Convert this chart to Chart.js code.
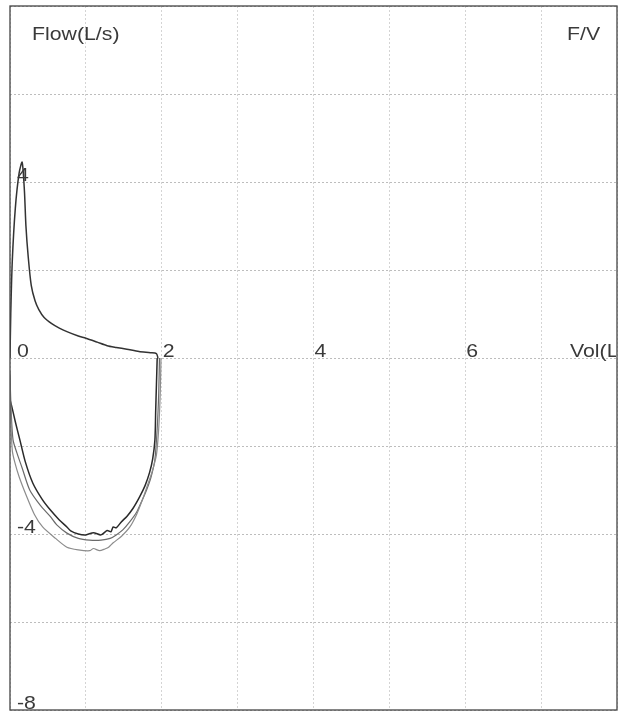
<!DOCTYPE html>
<html>
<head>
<meta charset="utf-8">
<script src="https://cdn.jsdelivr.net/npm/chart.js@4.4.1/dist/chart.umd.min.js"></script>
<style>
  html, body { margin: 0; padding: 0; background: #fff; }
  #wrap { width: 621px; height: 713px; }
</style>
</head>
<body>
<div id="wrap"><canvas id="myChart" width="621" height="713"></canvas></div>
<script>
// flow-volume loop, values
const expVol  = [0, 0.01, 0.03, 0.07, 0.12, 0.16, 0.19, 0.21, 0.24, 0.28, 0.33, 0.38, 0.45, 0.55, 0.65, 0.75, 0.9, 1.0, 1.15, 1.28, 1.4, 1.54, 1.7, 1.85, 1.93, 1.95];
const expFlow = [0, 1.0, 2.2, 3.4, 4.2, 4.45, 3.8, 3.0, 2.3, 1.65, 1.3, 1.1, 0.92, 0.78, 0.68, 0.6, 0.5, 0.45, 0.36, 0.28, 0.24, 0.2, 0.15, 0.12, 0.1, 0];

// inspiratory trials (dark = best, two grey ones)
const insp1Vol  = [1.94, 1.93, 1.92, 1.91, 1.88, 1.84, 1.78, 1.71, 1.62, 1.54, 1.47, 1.4, 1.36, 1.33, 1.28, 1.2, 1.1, 1.0, 0.9, 0.8, 0.75, 0.65, 0.53, 0.42, 0.3, 0.2, 0.13, 0.07, 0.03, 0];
const insp1Flow = [0, -0.6, -1.2, -1.86, -2.3, -2.6, -2.9, -3.15, -3.42, -3.6, -3.72, -3.86, -3.84, -3.95, -3.92, -4.02, -3.97, -4.02, -4.0, -3.93, -3.84, -3.68, -3.45, -3.2, -2.84, -2.35, -1.86, -1.45, -1.15, -0.95];

const insp2Vol  = [1.97, 1.96, 1.94, 1.91, 1.86, 1.8, 1.73, 1.67, 1.58, 1.49, 1.4, 1.32, 1.2, 1.05, 0.9, 0.75, 0.62, 0.53, 0.4, 0.26, 0.16, 0.09, 0.04, 0.015, 0];
const insp2Flow = [0, -0.8, -1.6, -2.3, -2.7, -3.0, -3.28, -3.5, -3.72, -3.9, -4.02, -4.1, -4.14, -4.14, -4.1, -3.98, -3.8, -3.6, -3.35, -3.0, -2.5, -2.15, -1.86, -1.2, -0.4];

const insp3Vol  = [1.99, 1.98, 1.96, 1.93, 1.87, 1.81, 1.75, 1.67, 1.58, 1.47, 1.36, 1.3, 1.25, 1.18, 1.1, 1.05, 0.9, 0.75, 0.6, 0.43, 0.32, 0.22, 0.12, 0.06, 0.03, 0.01, 0];
const insp3Flow = [0, -0.8, -1.6, -2.2, -2.6, -2.9, -3.2, -3.55, -3.84, -4.05, -4.2, -4.3, -4.34, -4.38, -4.33, -4.38, -4.36, -4.3, -4.1, -3.84, -3.55, -3.15, -2.7, -2.35, -2.1, -1.3, -0.3];

const xLabels = [0, 2, 4, 6];
const yLabels = [4, -4, -8];

function pts(xs, ys) {
    return xs.map((v, i) => ({ x: v, y: ys[i] }));
}

const textFont = '19px "Liberation Sans", Arial, sans-serif';
const stretch = 1.12; // the print is a bit wider than the font

function putText(ctx, s, x, y) {
    ctx.save();
    ctx.translate(x, y);
    ctx.scale(stretch, 1);
    ctx.fillText(s, 0, 0);
    ctx.restore();
}

// frame + labels printed inside the plot
const labelPlugin = {
    id: 'printLabels',
    afterDraw: (chart) => {
        const { ctx, chartArea } = chart;
        const xs = chart.scales.x, ys = chart.scales.y;
        ctx.save();
        ctx.strokeStyle = '#444';
        ctx.lineWidth = 1.3;
        ctx.strokeRect(chartArea.left, chartArea.top, chartArea.right - chartArea.left, chartArea.bottom - chartArea.top);

        ctx.fillStyle = '#3a3a3a';
        ctx.font = textFont;
        ctx.textBaseline = 'alphabetic';
        ctx.textAlign = 'left';
        const y0 = ys.getPixelForValue(0);
        xLabels.forEach(v => {
            let px = xs.getPixelForValue(v);
            px += (v === 0) ? 7 : 1;
            putText(ctx, String(v), px, y0 - 1);
        });
        yLabels.forEach(v => {
            putText(ctx, String(v), chartArea.left + 7, ys.getPixelForValue(v) - 1);
        });
        putText(ctx, 'Flow(L/s)', chartArea.left + 22, chartArea.top + 34);
        putText(ctx, 'F/V', chartArea.right - 50, chartArea.top + 34);

        ctx.beginPath();
        ctx.rect(chartArea.left, chartArea.top, chartArea.right - chartArea.left - 1, chartArea.bottom - chartArea.top);
        ctx.clip();
        putText(ctx, 'Vol(L)', xs.getPixelForValue(7.38), y0 - 1);
        ctx.restore();
    }
};

const ctx = document.getElementById('myChart').getContext('2d');
new Chart(ctx, {
    type: 'scatter',
    data: {
        datasets: [
            { data: pts(insp3Vol, insp3Flow), borderColor: '#8c8c8c', borderWidth: 1.2 },
            { data: pts(insp2Vol, insp2Flow), borderColor: '#6a6a6a', borderWidth: 1.2 },
            { data: pts(insp1Vol, insp1Flow), borderColor: '#2a2a2a', borderWidth: 1.5 },
            { data: pts(expVol, expFlow), borderColor: '#333333', borderWidth: 1.5 }
        ]
    },
    options: {
        responsive: false,
        animation: false,
        devicePixelRatio: 1,
        showLine: true,
        elements: {
            point: { radius: 0 },
            line: { tension: 0.25, fill: false }
        },
        layout: { padding: { left: 10, top: 6, right: 4, bottom: 3 } },
        scales: {
            x: {
                type: 'linear',
                min: 0,
                max: 8,
                ticks: { display: false, stepSize: 1 },
                grid: { color: '#d4d4d4', drawTicks: false, lineWidth: 1 },
                border: { display: false, dash: [2, 2] }
            },
            y: {
                type: 'linear',
                min: -8,
                max: 8,
                ticks: { display: false, stepSize: 2 },
                grid: { color: '#bdbdbd', drawTicks: false, lineWidth: 1 },
                border: { display: false, dash: [2, 2] }
            }
        },
        plugins: {
            legend: { display: false },
            tooltip: { enabled: false }
        }
    },
    plugins: [labelPlugin]
});
</script>
</body>
</html>
